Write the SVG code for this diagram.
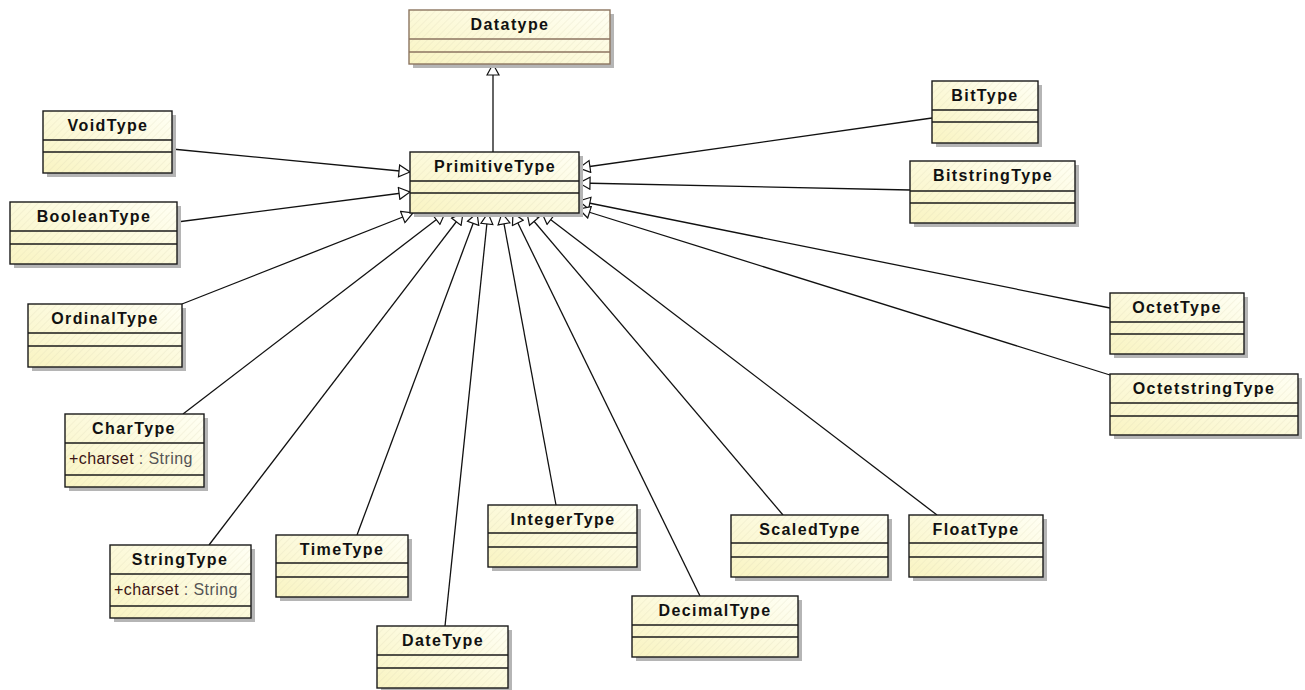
<svg xmlns="http://www.w3.org/2000/svg" width="1305" height="690" viewBox="0 0 1305 690">
<style>
.sh{fill:#b5b5b5}
.bx{fill:url(#grad)}
.ht{fill:url(#hatch)}
.ol{fill:none;stroke:#1a1a1a;stroke-width:1.4}
.ol2{fill:none;stroke:#8c7560;stroke-width:1.4}
.dv{stroke:#1a1a1a;stroke-width:1.4}
.dv2{stroke:#8c7560;stroke-width:1.4}
.t{font-family:"Liberation Sans",Arial,sans-serif;font-weight:bold;font-size:16px;letter-spacing:1.4px;text-anchor:middle;fill:#111}
.a{font-family:"Liberation Sans",Arial,sans-serif;font-size:16px;letter-spacing:0.4px;fill:#555}
.a .n{fill:#3c1414}
.c{stroke:#111;stroke-width:1.3;fill:none;marker-end:url(#gen)}
</style>
<defs>
<linearGradient id="grad" x1="0" y1="1" x2="1" y2="0">
<stop offset="0" stop-color="#f9f4c2"/>
<stop offset="1" stop-color="#fffff4"/>
</linearGradient>
<pattern id="hatch" patternUnits="userSpaceOnUse" width="5" height="5" patternTransform="rotate(45)">
<line x1="0" y1="0" x2="0" y2="5" stroke="#d9d4b0" stroke-width="0.8" stroke-opacity="0.55"/>
</pattern>
<marker id="gen" markerUnits="userSpaceOnUse" viewBox="0 0 13 14" markerWidth="13" markerHeight="14" refX="12" refY="7" orient="auto">
<path d="M1,1 L12,7 L1,13 Z" fill="#fff" stroke="#111" stroke-width="1.2"/>
</marker>
</defs>

<g id="connectors">
<line class="c" x1="493" y1="152" x2="493" y2="64"/>
<line class="c" x1="172" y1="149" x2="410" y2="172"/>
<line class="c" x1="177" y1="222" x2="410" y2="192"/>
<line class="c" x1="182" y1="304" x2="413" y2="213"/>
<line class="c" x1="183" y1="414" x2="445" y2="213"/>
<line class="c" x1="209" y1="545" x2="463" y2="213"/>
<line class="c" x1="357" y1="535" x2="477" y2="213"/>
<line class="c" x1="445" y1="626" x2="488" y2="213"/>
<line class="c" x1="556" y1="505" x2="502" y2="213"/>
<line class="c" x1="700" y1="596" x2="513" y2="213"/>
<line class="c" x1="783" y1="515" x2="527" y2="213"/>
<line class="c" x1="937" y1="515" x2="542" y2="213"/>
<line class="c" x1="932" y1="118" x2="579" y2="168"/>
<line class="c" x1="910" y1="190" x2="579" y2="183"/>
<line class="c" x1="1110" y1="308" x2="579" y2="201"/>
<line class="c" x1="1110" y1="375" x2="579" y2="209"/>
</g>

<g id="Datatype">
<rect class="sh" x="413" y="14" width="201" height="54"/>
<rect class="bx" x="409" y="10" width="201" height="54"/>
<rect class="ht" x="409" y="10" width="201" height="54"/>
<rect class="ol2" x="409" y="10" width="201" height="54"/>
<line class="dv2" x1="409" y1="39" x2="610" y2="39"/>
<line class="dv2" x1="409" y1="52" x2="610" y2="52"/>
<text class="t" x="510" y="30">Datatype</text>
</g>

<g id="PrimitiveType">
<rect class="sh" x="414" y="156" width="169" height="61"/>
<rect class="bx" x="410" y="152" width="169" height="61"/>
<rect class="ht" x="410" y="152" width="169" height="61"/>
<rect class="ol" x="410" y="152" width="169" height="61"/>
<line class="dv" x1="410" y1="181" x2="579" y2="181"/>
<line class="dv" x1="410" y1="193" x2="579" y2="193"/>
<text class="t" x="495" y="172">PrimitiveType</text>
</g>

<g id="VoidType">
<rect class="sh" x="47" y="115" width="129" height="62"/>
<rect class="bx" x="43" y="111" width="129" height="62"/>
<rect class="ht" x="43" y="111" width="129" height="62"/>
<rect class="ol" x="43" y="111" width="129" height="62"/>
<line class="dv" x1="43" y1="140" x2="172" y2="140"/>
<line class="dv" x1="43" y1="152" x2="172" y2="152"/>
<text class="t" x="108" y="131">VoidType</text>
</g>

<g id="BooleanType">
<rect class="sh" x="14" y="206" width="167" height="62"/>
<rect class="bx" x="10" y="202" width="167" height="62"/>
<rect class="ht" x="10" y="202" width="167" height="62"/>
<rect class="ol" x="10" y="202" width="167" height="62"/>
<line class="dv" x1="10" y1="231" x2="177" y2="231"/>
<line class="dv" x1="10" y1="244" x2="177" y2="244"/>
<text class="t" x="94" y="222">BooleanType</text>
</g>

<g id="OrdinalType">
<rect class="sh" x="32" y="308" width="154" height="63"/>
<rect class="bx" x="28" y="304" width="154" height="63"/>
<rect class="ht" x="28" y="304" width="154" height="63"/>
<rect class="ol" x="28" y="304" width="154" height="63"/>
<line class="dv" x1="28" y1="333" x2="182" y2="333"/>
<line class="dv" x1="28" y1="346" x2="182" y2="346"/>
<text class="t" x="105" y="324">OrdinalType</text>
</g>

<g id="CharType">
<rect class="sh" x="69" y="418" width="139" height="73"/>
<rect class="bx" x="65" y="414" width="139" height="73"/>
<rect class="ht" x="65" y="414" width="139" height="73"/>
<rect class="ol" x="65" y="414" width="139" height="73"/>
<line class="dv" x1="65" y1="443" x2="204" y2="443"/>
<line class="dv" x1="65" y1="475" x2="204" y2="475"/>
<text class="t" x="134" y="434">CharType</text>
<text class="a" x="69" y="464"><tspan class="n">+charset</tspan> : String</text>
</g>

<g id="StringType">
<rect class="sh" x="114" y="549" width="141" height="73"/>
<rect class="bx" x="110" y="545" width="141" height="73"/>
<rect class="ht" x="110" y="545" width="141" height="73"/>
<rect class="ol" x="110" y="545" width="141" height="73"/>
<line class="dv" x1="110" y1="574" x2="251" y2="574"/>
<line class="dv" x1="110" y1="606" x2="251" y2="606"/>
<text class="t" x="180" y="565">StringType</text>
<text class="a" x="114" y="595"><tspan class="n">+charset</tspan> : String</text>
</g>

<g id="TimeType">
<rect class="sh" x="280" y="539" width="132" height="62"/>
<rect class="bx" x="276" y="535" width="132" height="62"/>
<rect class="ht" x="276" y="535" width="132" height="62"/>
<rect class="ol" x="276" y="535" width="132" height="62"/>
<line class="dv" x1="276" y1="563" x2="408" y2="563"/>
<line class="dv" x1="276" y1="577" x2="408" y2="577"/>
<text class="t" x="342" y="555">TimeType</text>
</g>

<g id="DateType">
<rect class="sh" x="381" y="630" width="131" height="62"/>
<rect class="bx" x="377" y="626" width="131" height="62"/>
<rect class="ht" x="377" y="626" width="131" height="62"/>
<rect class="ol" x="377" y="626" width="131" height="62"/>
<line class="dv" x1="377" y1="655" x2="508" y2="655"/>
<line class="dv" x1="377" y1="668" x2="508" y2="668"/>
<text class="t" x="443" y="646">DateType</text>
</g>

<g id="IntegerType">
<rect class="sh" x="492" y="509" width="149" height="62"/>
<rect class="bx" x="488" y="505" width="149" height="62"/>
<rect class="ht" x="488" y="505" width="149" height="62"/>
<rect class="ol" x="488" y="505" width="149" height="62"/>
<line class="dv" x1="488" y1="533" x2="637" y2="533"/>
<line class="dv" x1="488" y1="547" x2="637" y2="547"/>
<text class="t" x="563" y="525">IntegerType</text>
</g>

<g id="DecimalType">
<rect class="sh" x="636" y="600" width="166" height="61"/>
<rect class="bx" x="632" y="596" width="166" height="61"/>
<rect class="ht" x="632" y="596" width="166" height="61"/>
<rect class="ol" x="632" y="596" width="166" height="61"/>
<line class="dv" x1="632" y1="625" x2="798" y2="625"/>
<line class="dv" x1="632" y1="637" x2="798" y2="637"/>
<text class="t" x="715" y="616">DecimalType</text>
</g>

<g id="ScaledType">
<rect class="sh" x="735" y="519" width="157" height="62"/>
<rect class="bx" x="731" y="515" width="157" height="62"/>
<rect class="ht" x="731" y="515" width="157" height="62"/>
<rect class="ol" x="731" y="515" width="157" height="62"/>
<line class="dv" x1="731" y1="543" x2="888" y2="543"/>
<line class="dv" x1="731" y1="557" x2="888" y2="557"/>
<text class="t" x="810" y="535">ScaledType</text>
</g>

<g id="FloatType">
<rect class="sh" x="913" y="519" width="134" height="62"/>
<rect class="bx" x="909" y="515" width="134" height="62"/>
<rect class="ht" x="909" y="515" width="134" height="62"/>
<rect class="ol" x="909" y="515" width="134" height="62"/>
<line class="dv" x1="909" y1="543" x2="1043" y2="543"/>
<line class="dv" x1="909" y1="557" x2="1043" y2="557"/>
<text class="t" x="976" y="535">FloatType</text>
</g>

<g id="BitType">
<rect class="sh" x="936" y="85" width="106" height="62"/>
<rect class="bx" x="932" y="81" width="106" height="62"/>
<rect class="ht" x="932" y="81" width="106" height="62"/>
<rect class="ol" x="932" y="81" width="106" height="62"/>
<line class="dv" x1="932" y1="110" x2="1038" y2="110"/>
<line class="dv" x1="932" y1="122" x2="1038" y2="122"/>
<text class="t" x="985" y="101">BitType</text>
</g>

<g id="BitstringType">
<rect class="sh" x="914" y="165" width="165" height="62"/>
<rect class="bx" x="910" y="161" width="165" height="62"/>
<rect class="ht" x="910" y="161" width="165" height="62"/>
<rect class="ol" x="910" y="161" width="165" height="62"/>
<line class="dv" x1="910" y1="191" x2="1075" y2="191"/>
<line class="dv" x1="910" y1="203" x2="1075" y2="203"/>
<text class="t" x="993" y="181">BitstringType</text>
</g>

<g id="OctetType">
<rect class="sh" x="1114" y="297" width="134" height="61"/>
<rect class="bx" x="1110" y="293" width="134" height="61"/>
<rect class="ht" x="1110" y="293" width="134" height="61"/>
<rect class="ol" x="1110" y="293" width="134" height="61"/>
<line class="dv" x1="1110" y1="322" x2="1244" y2="322"/>
<line class="dv" x1="1110" y1="334" x2="1244" y2="334"/>
<text class="t" x="1177" y="313">OctetType</text>
</g>

<g id="OctetstringType">
<rect class="sh" x="1114" y="378" width="188" height="61"/>
<rect class="bx" x="1110" y="374" width="188" height="61"/>
<rect class="ht" x="1110" y="374" width="188" height="61"/>
<rect class="ol" x="1110" y="374" width="188" height="61"/>
<line class="dv" x1="1110" y1="403" x2="1298" y2="403"/>
<line class="dv" x1="1110" y1="416" x2="1298" y2="416"/>
<text class="t" x="1204" y="394">OctetstringType</text>
</g>
</svg>
